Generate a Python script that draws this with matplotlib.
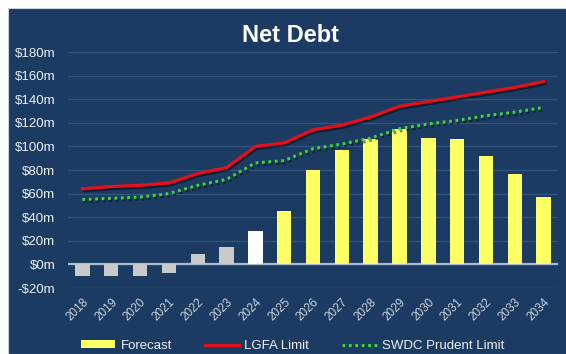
import matplotlib
matplotlib.use("Agg")
import matplotlib.pyplot as plt
import matplotlib.patheffects as pe
from matplotlib.patches import Rectangle

# Net debt by year ($m), with the two borrowing limits
years = [str(y) for y in range(2018, 2035)]
net_debt = [-10, -10, -10, -7, 9, 15, 28, 45, 80, 97, 106, 115, 107, 106, 92, 77, 57]
lgfa_limit = [64, 66, 67, 69, 77, 82, 100, 103, 114, 118, 125, 134, 138, 142, 146, 150, 155]
swdc_limit = [55, 56, 57, 60, 67, 72, 86, 88, 98, 102, 107, 115, 119, 122, 126, 129, 133]
first_forecast = "2025"
current_year = "2024"
y_ticks = list(range(-20, 181, 20))

BG = "#1b3b62"
GRID = "#32547e"
FONT = "Liberation Sans"

fig = plt.figure(figsize=(5.66, 3.54), dpi=100, facecolor="white")
# dark panel behind the chart, leaving a thin white margin top/left
fig.patches.append(Rectangle((8 / 566, 0), 1, 1 - 8 / 354, transform=fig.transFigure,
                             facecolor=BG, edgecolor="#c9d3de", linewidth=0.8, zorder=-10))

ax = fig.add_axes([68 / 566, 66 / 354, 490 / 566, 236 / 354])
ax.set_facecolor("none")

x = list(range(len(years)))
colors = []
for yr in years:
    if yr == current_year:
        colors.append("#ffffff")
    elif int(yr) >= int(first_forecast):
        colors.append("#ffff66")
    else:
        colors.append("#c9c9c9")

ax.bar(x, net_debt, width=0.5, color=colors, zorder=3)

shadow = [pe.SimpleLineShadow(offset=(1, -1.5), shadow_color="black", alpha=0.45), pe.Normal()]
ax.plot(x, lgfa_limit, color="#e4101c", linewidth=2.3, zorder=4, path_effects=shadow)
ax.plot(x, swdc_limit, color="#3ed63e", linewidth=2.2, linestyle=(0, (0.9, 1.2)),
        zorder=4, path_effects=shadow)

ax.set_xlim(-0.5, len(years) - 0.5)
ax.set_ylim(-20, 180)
ax.set_yticks(y_ticks)
ax.set_yticklabels([f"-${-v}m" if v < 0 else f"${v}m" for v in y_ticks],
                   fontsize=9.5, color="#eef1f5", fontfamily=FONT)
ax.set_xticks(x)
ax.set_xticklabels(years, rotation=45, ha="right", rotation_mode="anchor",
                   fontsize=8.5, color="#c9d2dc", fontfamily=FONT)
ax.tick_params(length=0, pad=6)
ax.tick_params(axis="y", pad=9)

ax.grid(axis="y", color=GRID, linewidth=1, zorder=1)
ax.axhline(0, color="#a9bccf", linewidth=1.6, zorder=2)
for s in ax.spines.values():
    s.set_visible(False)

fig.text(0.513, 1 - 35 / 354, "Net Debt", ha="center", va="center", color="white",
         fontsize=17, fontweight="bold", fontfamily=FONT)

handles = [
    Rectangle((0, 0), 1, 1, facecolor="#ffff66"),
    plt.Line2D([], [], color="#e4101c", linewidth=2.3),
    plt.Line2D([], [], color="#3ed63e", linewidth=2.2, linestyle=(0, (0.9, 1.2))),
]
leg = fig.legend(handles, ["Forecast", "LGFA Limit", "SWDC Prudent Limit"],
                 loc="center", bbox_to_anchor=(0.517, 8 / 354), ncol=3, frameon=False,
                 handlelength=2.6, handleheight=0.55, handletextpad=0.4, columnspacing=2.5,
                 prop={"family": FONT, "size": 9.5})
for t in leg.get_texts():
    t.set_color("#eef1f5")

fig.savefig("out.png", dpi=100, facecolor=fig.get_facecolor())
